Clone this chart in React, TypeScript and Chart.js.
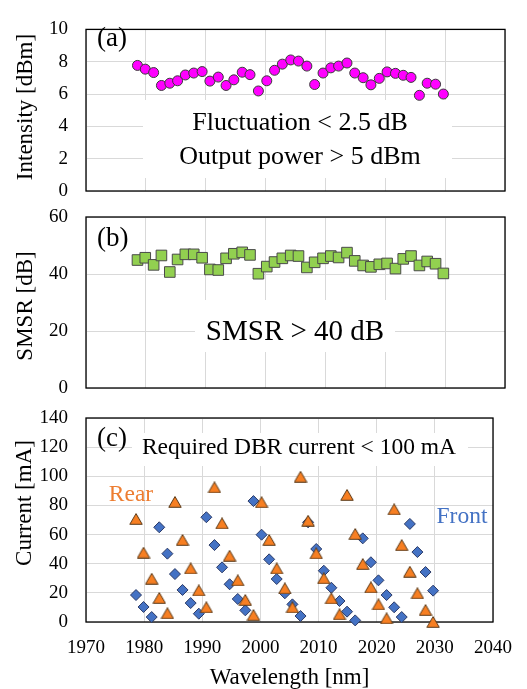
import React, { useEffect, useRef } from "react";
import { Chart, registerables } from "chart.js";
Chart.register(...registerables);

// ---------- data ----------
const wavelengths = [
  1978.6, 1979.9, 1981.3, 1982.6, 1984.0, 1985.3, 1986.6, 1988.0, 1989.4, 1990.7,
  1992.1, 1993.4, 1994.7, 1996.1, 1997.4, 1998.8, 2000.2, 2001.5, 2002.8, 2004.2,
  2005.5, 2006.9, 2008.2, 2009.6, 2010.9, 2012.2, 2013.6, 2014.9, 2016.3, 2017.6,
  2019.0, 2020.3, 2021.7, 2023.0, 2024.3, 2025.7, 2027.0, 2028.4, 2029.7,
];
const intensity = [
  7.77, 7.54, 7.33, 6.53, 6.67, 6.82, 7.18, 7.3, 7.39, 6.8,
  7.05, 6.53, 6.88, 7.35, 7.2, 6.19, 6.82, 7.47, 7.85, 8.11,
  8.04, 7.73, 6.59, 7.3, 7.62, 7.73, 7.92, 7.3, 7.01, 6.57,
  6.97, 7.37, 7.28, 7.16, 7.03, 5.92, 6.67, 6.61, 6.0,
];
const smsr = [
  44.9, 45.7, 43.2, 46.5, 40.7, 45.1, 46.9, 46.9, 45.7, 41.6,
  41.4, 45.5, 47.1, 47.6, 46.7, 40.1, 42.6, 44.2, 45.5, 46.5,
  46.3, 42.3, 44.1, 45.5, 46.3, 45.8, 47.5, 44.6, 43.0, 42.5,
  43.4, 43.7, 41.9, 45.3, 46.3, 43.0, 44.4, 43.6, 40.2,
];
const rearCurrent = [
  70.7, 47.6, 29.7, 16.5, 6.0, 82.4, 56.3, 36.8, 21.7, 10.1,
  92.4, 67.7, 45.5, 28.6, 15.1, 4.8, 82.2, 56.3, 36.8, 23.1,
  10.1, 99.7, 69.5, 47.1, 30.0, 16.2, 5.3, 87.2, 60.4, 39.8,
  23.8, 12.1, 2.5, 77.3, 52.8, 34.5, 19.7, 8.2, 0.0,
];
const frontCurrent = [
  18.5, 10.3, 3.4, 65.0, 46.9, 32.9, 22.0, 13.0, 5.7, 71.9,
  52.8, 37.5, 25.9, 15.8, 8.0, 83.0, 59.9, 43.0, 29.5, 19.7,
  12.1, 4.1, 68.4, 50.1, 35.2, 23.5, 14.4, 7.1, 1.1, 57.4,
  41.0, 28.6, 18.5, 10.1, 3.4, 67.3, 48.0, 34.3, 21.5,
];
const xMin = 1970;
const xMax = 2040;
const xStep = 10;

const W = 527;
const H = 689;
const SERIF = "'Liberation Serif', 'Times New Roman', serif";

type Note = { text: string; x: number; y: number; size: number; color?: string; align?: CanvasTextAlign };
type Box = { x1: number; y1: number; x2: number; y2: number };

const toPts = (ys: number[]) => ys.map((y, i) => ({ x: wavelengths[i], y }));

// triangle marker centred on its bounding box (as in spreadsheet charts)
function triangleMarker(fill: string, stroke: string): HTMLCanvasElement {
  const c = document.createElement("canvas");
  c.width = 14;
  c.height = 12;
  const g = c.getContext("2d")!;
  g.beginPath();
  g.moveTo(7, 0.6);
  g.lineTo(13.2, 11.3);
  g.lineTo(0.8, 11.3);
  g.closePath();
  g.fillStyle = fill;
  g.fill();
  g.lineWidth = 1;
  g.strokeStyle = stroke;
  g.stroke();
  return c;
}

const panelPlugin = {
  id: "panelDecor",
  beforeDatasetsDraw(chart: any) {
    const o = chart.options.plugins.panelDecor;
    const { ctx, chartArea } = chart;
    ctx.save();
    (o.boxes || []).forEach((b: Box) => {
      ctx.fillStyle = "#ffffff";
      ctx.fillRect(b.x1, b.y1, b.x2 - b.x1, b.y2 - b.y1);
    });
    (o.notes || []).forEach((n: Note) => {
      ctx.fillStyle = n.color || "#000000";
      ctx.font = `${n.size}px ${SERIF}`;
      ctx.textAlign = n.align || "center";
      ctx.textBaseline = "middle";
      ctx.fillText(n.text, n.x, n.y);
    });
    ctx.strokeStyle = "#000000";
    ctx.lineWidth = 1.3;
    ctx.strokeRect(chartArea.left, chartArea.top, chartArea.right - chartArea.left, chartArea.bottom - chartArea.top);
    ctx.restore();
  },
  afterDraw(chart: any) {
    const o = chart.options.plugins.panelDecor;
    if (!o.yTitle) return;
    const { ctx } = chart;
    ctx.save();
    ctx.translate(o.yTitle.x, o.yTitle.y);
    ctx.rotate(-Math.PI / 2);
    ctx.fillStyle = "#000000";
    ctx.font = `23px ${SERIF}`;
    ctx.textAlign = "center";
    ctx.textBaseline = "middle";
    ctx.fillText(o.yTitle.text, 0, 0);
    ctx.restore();
  },
};

type Panel = {
  top: number;
  bottom: number;
  yMax: number;
  yStep: number;
  showX: boolean;
  datasets: () => any[];
  notes: Note[];
  boxes: Box[];
  yTitle: { text: string; x: number; y: number };
};

function makeConfig(p: Panel): any {
  return {
    type: "scatter",
    data: { datasets: p.datasets() },
    plugins: [panelPlugin],
    options: {
      animation: false,
      responsive: false,
      devicePixelRatio: 1,
      layout: { padding: { top: p.top, bottom: p.showX ? 0 : H - p.bottom, left: 0, right: 22 } },
      plugins: {
        legend: { display: false },
        tooltip: { enabled: false },
        panelDecor: { notes: p.notes, boxes: p.boxes, yTitle: p.yTitle },
      },
      scales: {
        x: {
          type: "linear",
          min: xMin,
          max: xMax,
          border: { display: false },
          grid: { color: "#d9d9d9", lineWidth: 1, drawTicks: false },
          ticks: {
            display: p.showX,
            stepSize: xStep,
            padding: 15,
            color: "#000000",
            font: { family: SERIF, size: 19 },
            maxRotation: 0,
            callback: (v: number) => String(v),
          },
          title: {
            display: p.showX,
            text: "Wavelength [nm]",
            color: "#000000",
            font: { family: SERIF, size: 23, lineHeight: 1.0 },
            padding: { top: 0, bottom: 0 },
          },
          afterFit: (s: any) => {
            s.height = p.showX ? H - p.bottom : 0;
          },
        },
        y: {
          type: "linear",
          min: 0,
          max: p.yMax,
          border: { display: false },
          grid: { color: "#d9d9d9", lineWidth: 1, drawTicks: false },
          ticks: {
            stepSize: p.yStep,
            padding: 18,
            color: "#000000",
            font: { family: SERIF, size: 19 },
          },
          afterFit: (s: any) => {
            s.width = 86;
          },
        },
      },
    },
  };
}

const marker = (extra: any) => ({
  showLine: false,
  clip: false,
  borderWidth: 1,
  ...extra,
});

const panels: Panel[] = [
  {
    top: 15,
    bottom: 191,
    yMax: 10,
    yStep: 2,
    showX: false,
    datasets: () => [
      marker({
        data: toPts(intensity),
        pointStyle: "circle",
        pointRadius: 5,
        backgroundColor: "#ff00ff",
        borderColor: "#3a3a3a",
      }),
    ],
    boxes: [{ x1: 143, y1: 100, x2: 452, y2: 178 }],
    notes: [
      { text: "(a)", x: 97, y: 39, size: 27, align: "left" },
      { text: "Fluctuation < 2.5 dB", x: 300, y: 123, size: 26 },
      { text: "Output power > 5 dBm", x: 300, y: 157, size: 26 },
    ],
    yTitle: { text: "Intensity [dBm]", x: 26, y: 107 },
  },
  {
    top: 217,
    bottom: 388,
    yMax: 60,
    yStep: 20,
    showX: false,
    datasets: () => [
      marker({
        data: toPts(smsr),
        pointStyle: "rect",
        pointRadius: 7.5,
        backgroundColor: "#92d050",
        borderColor: "#4a4a4a",
      }),
    ],
    boxes: [{ x1: 195, y1: 300, x2: 395, y2: 352 }],
    notes: [
      { text: "(b)", x: 97, y: 239, size: 27, align: "left" },
      { text: "SMSR > 40 dB", x: 295, y: 332, size: 29 },
    ],
    yTitle: { text: "SMSR [dB]", x: 26, y: 306 },
  },
  {
    top: 418,
    bottom: 622,
    yMax: 140,
    yStep: 20,
    showX: true,
    datasets: () => [
      marker({
        data: toPts(rearCurrent),
        pointStyle: triangleMarker("#f77f22", "#5a3a1a"),
        pointRadius: 7,
        backgroundColor: "#f77f22",
        borderColor: "#5a3a1a",
      }),
      marker({
        data: toPts(frontCurrent),
        pointStyle: "rectRot",
        pointRadius: 5.5,
        backgroundColor: "#4472c4",
        borderColor: "#2b3a66",
      }),
    ],
    boxes: [{ x1: 132, y1: 433, x2: 468, y2: 466 }],
    notes: [
      { text: "(c)", x: 97, y: 439, size: 27, align: "left" },
      { text: "Required DBR current < 100 mA", x: 299, y: 448, size: 23.5 },
      { text: "Rear", x: 131, y: 495, size: 23.5, color: "#ed7d31" },
      { text: "Front", x: 462, y: 517, size: 23.5, color: "#4472c4" },
    ],
    yTitle: { text: "Current [mA]", x: 25, y: 503 },
  },
];

function PanelCanvas({ panel }: { panel: Panel }) {
  const ref = useRef<HTMLCanvasElement | null>(null);
  useEffect(() => {
    if (!ref.current) return;
    const chart = new Chart(ref.current, makeConfig(panel));
    return () => chart.destroy();
  }, [panel]);
  return (
    <canvas
      ref={ref}
      width={W}
      height={H}
      style={{ position: "absolute", left: 0, top: 0, width: W, height: H }}
    />
  );
}

export default function App() {
  return (
    <div style={{ position: "fixed", left: 0, top: 0, width: W, height: H, background: "#ffffff" }}>
      {panels.map((p, i) => (
        <PanelCanvas key={i} panel={p} />
      ))}
    </div>
  );
}
